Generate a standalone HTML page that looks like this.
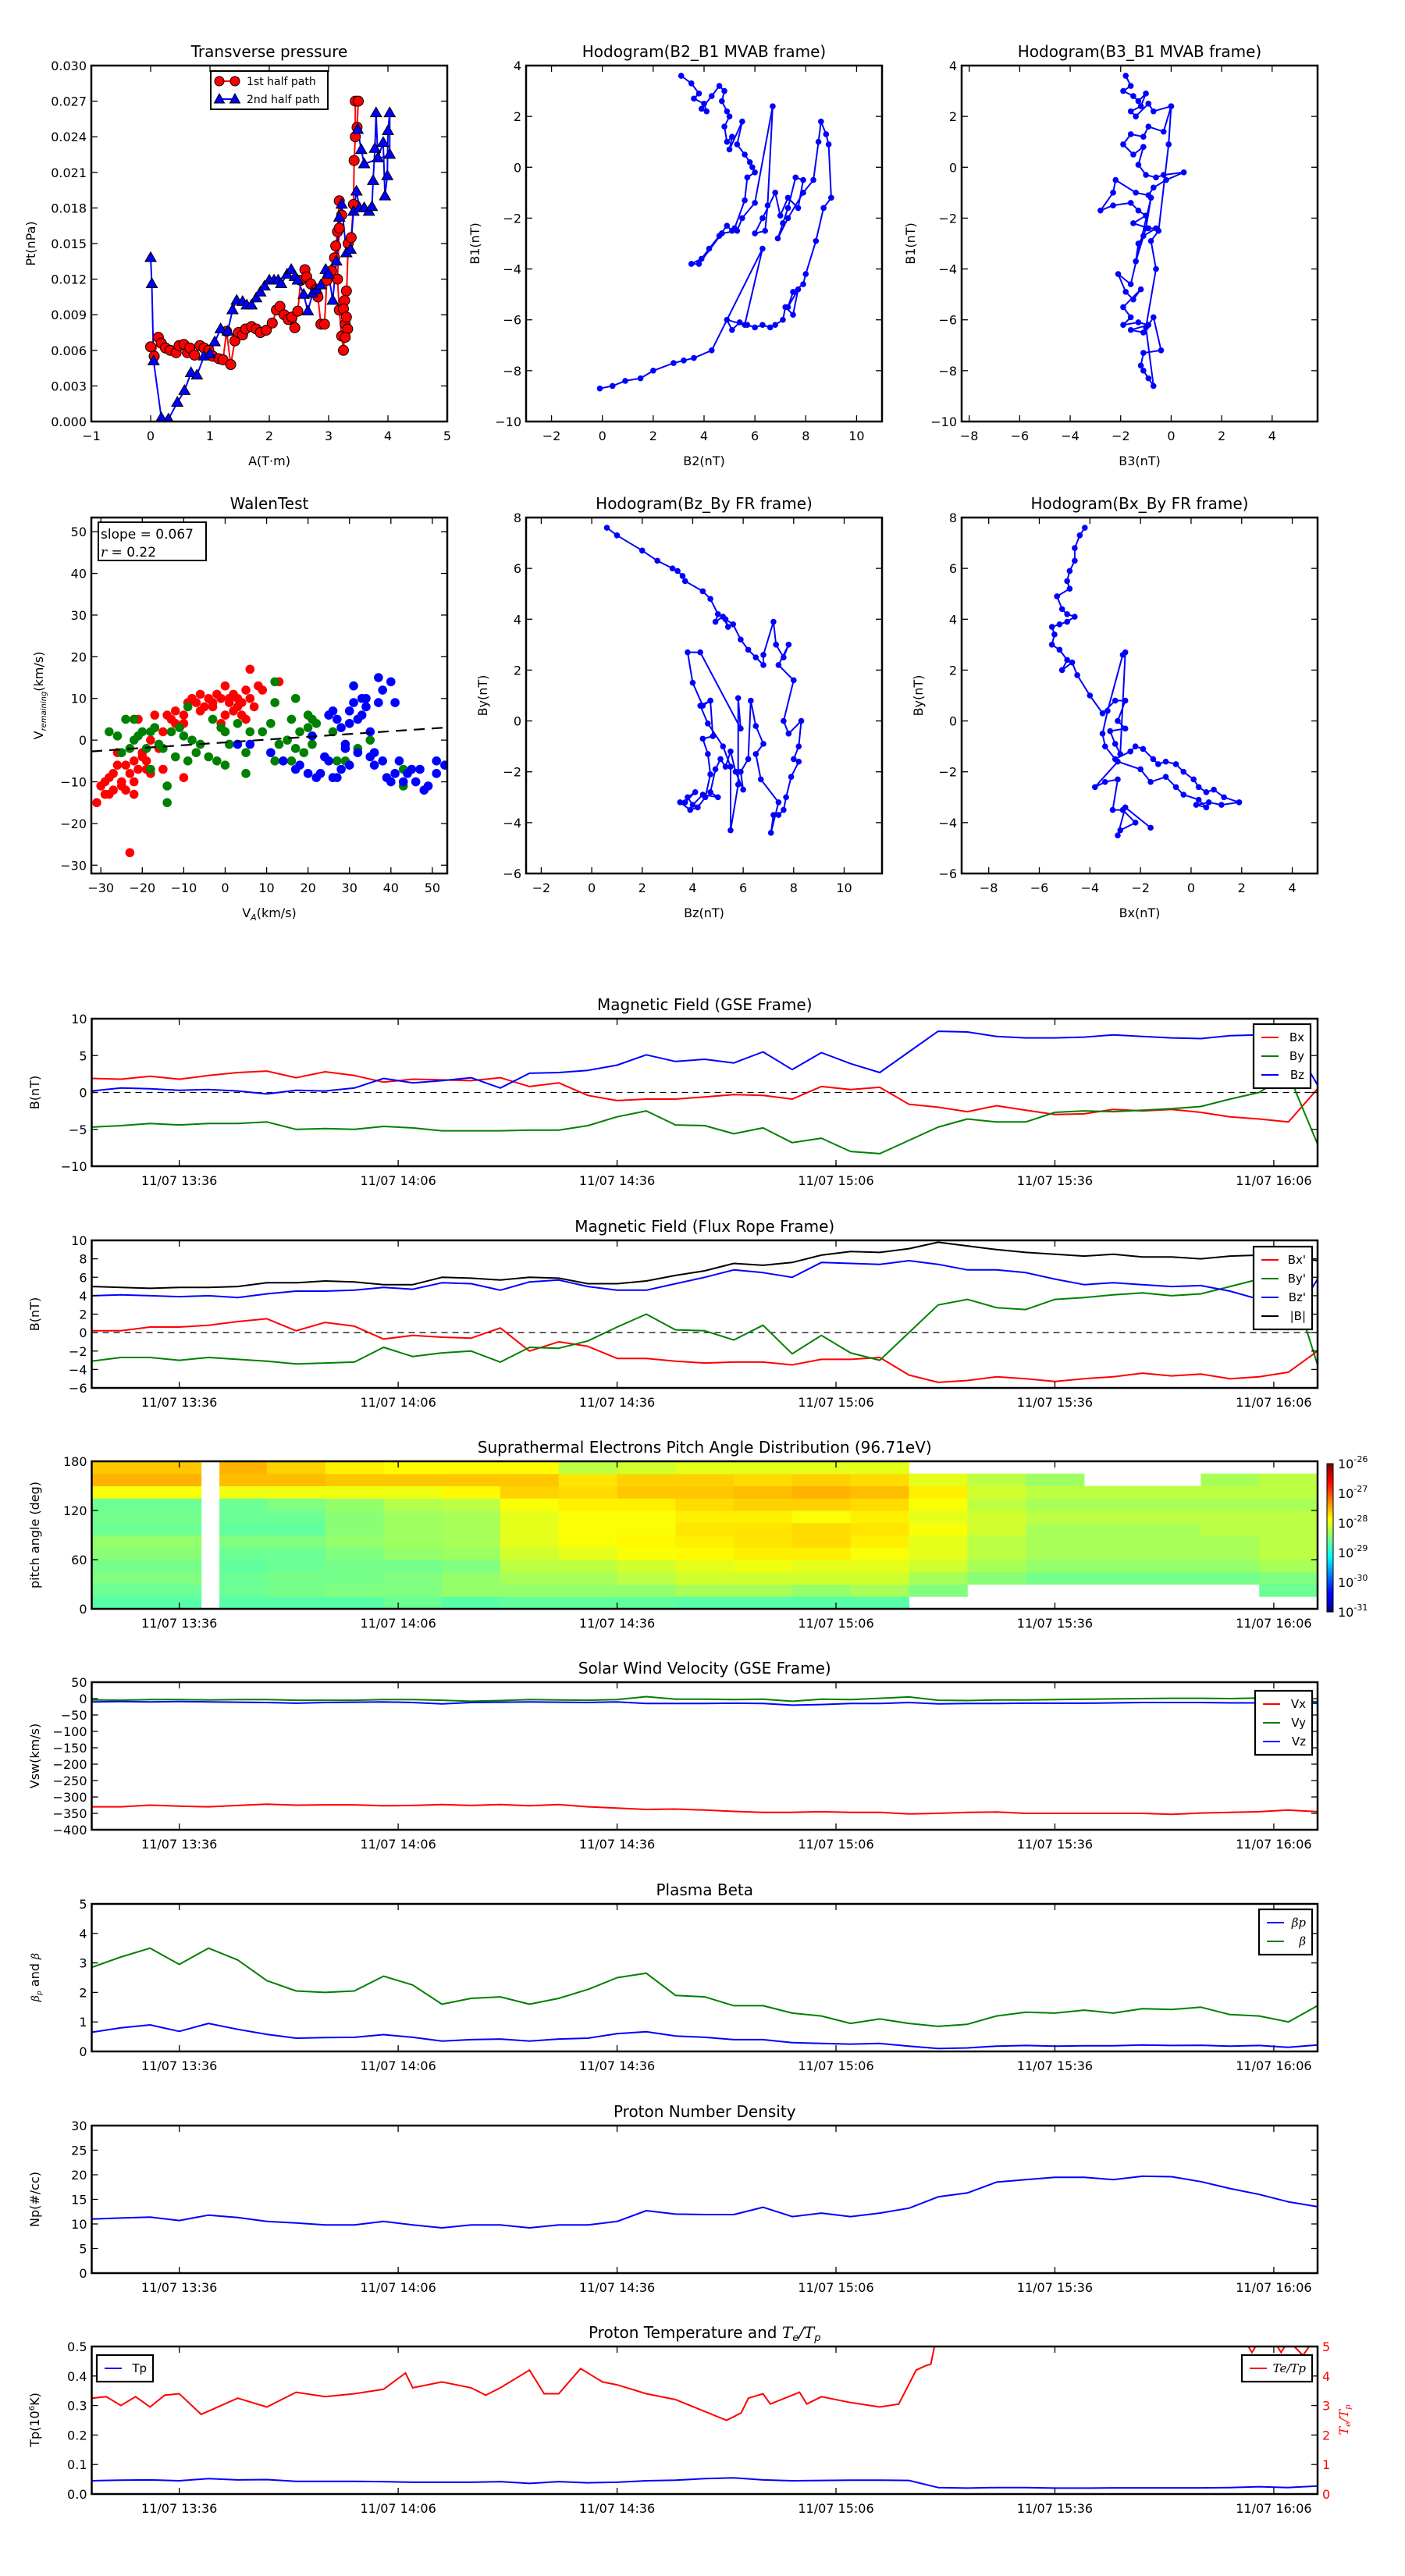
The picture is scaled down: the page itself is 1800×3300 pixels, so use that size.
<!DOCTYPE html>
<html><head><meta charset="utf-8"><title>Flux rope analysis</title>
<style>
body{margin:0;background:#fff}
svg{display:block;font-family:"DejaVu Sans","Liberation Sans",sans-serif}
</style></head>
<body>
<svg id="fig" xmlns="http://www.w3.org/2000/svg" width="1800" height="3300" viewBox="0 0 1800 3300">
<rect x="0" y="0" width="1800" height="3300" fill="#fff"/>
<defs>
<linearGradient id="jet" x1="0" y1="1" x2="0" y2="0">
<stop offset="0" stop-color="#00007f"/><stop offset="0.11" stop-color="#0000ff"/><stop offset="0.125" stop-color="#0000ff"/><stop offset="0.375" stop-color="#00ffff"/><stop offset="0.625" stop-color="#ffff00"/><stop offset="0.875" stop-color="#ff0000"/><stop offset="1" stop-color="#7f0000"/>
</linearGradient>
</defs>
</svg>
<script>
// ---------- DATA ----------
const T4=[0,4,8,12,16,20,24,28,32,36,40,44,48,52,56,60,64,68,72,76,80,84,88,92,96,100,104,108,112,116,120,124,128,132,136,140,144,148,152,156,160,164,168];
const timeTicks=[12,42,72,102,132,162];
const timeLabels=['11/07 13:36','11/07 14:06','11/07 14:36','11/07 15:06','11/07 15:36','11/07 16:06'];
const gseBx=[1.9,1.8,2.2,1.8,2.3,2.7,2.9,2.0,2.8,2.3,1.4,1.8,1.7,1.6,2.0,0.8,1.3,-0.4,-1.1,-0.9,-0.9,-0.6,-0.3,-0.4,-0.9,0.8,0.4,0.7,-1.6,-2.0,-2.6,-1.8,-2.4,-3.0,-2.9,-2.3,-2.5,-2.3,-2.7,-3.3,-3.6,-4.0,0.5];
const gseBy=[-4.7,-4.5,-4.2,-4.4,-4.2,-4.2,-4.0,-5.0,-4.9,-5.0,-4.6,-4.8,-5.2,-5.2,-5.2,-5.1,-5.1,-4.5,-3.3,-2.5,-4.4,-4.5,-5.6,-4.8,-6.8,-6.2,-8.0,-8.3,-6.5,-4.7,-3.6,-4.0,-4.0,-2.7,-2.5,-2.6,-2.4,-2.2,-1.9,-0.9,0.0,2.5,-7.0];
const gseBz=[0.2,0.6,0.5,0.3,0.4,0.2,-0.2,0.3,0.2,0.6,1.9,1.3,1.6,2.0,0.6,2.6,2.7,3.0,3.7,5.1,4.2,4.5,4.0,5.5,3.1,5.4,3.9,2.7,5.5,8.3,8.2,7.6,7.4,7.4,7.5,7.8,7.6,7.4,7.3,7.7,7.8,7.8,1.0];
const frBx=[0.2,0.2,0.6,0.6,0.8,1.2,1.5,0.2,1.1,0.7,-0.7,-0.3,-0.5,-0.6,0.5,-2.0,-1.0,-1.5,-2.8,-2.8,-3.1,-3.3,-3.2,-3.2,-3.5,-2.9,-2.9,-2.7,-4.6,-5.4,-5.2,-4.8,-5.0,-5.3,-5.0,-4.8,-4.4,-4.7,-4.5,-5.0,-4.8,-4.3,-2.0];
const frBy=[-3.1,-2.7,-2.7,-3.0,-2.7,-2.9,-3.1,-3.4,-3.3,-3.2,-1.6,-2.6,-2.2,-2.0,-3.2,-1.6,-1.7,-0.9,0.6,2.0,0.3,0.2,-0.8,0.8,-2.3,-0.3,-2.2,-3.0,0.0,3.0,3.6,2.7,2.5,3.6,3.8,4.1,4.3,4.0,4.2,5.0,5.8,6.5,-3.5];
const frBz=[4.0,4.1,4.0,3.9,4.0,3.8,4.2,4.5,4.5,4.6,4.9,4.7,5.4,5.3,4.6,5.5,5.7,5.0,4.6,4.6,5.3,6.0,6.8,6.5,6.0,7.6,7.5,7.4,7.8,7.4,6.8,6.8,6.5,5.8,5.2,5.4,5.2,5.0,5.1,4.5,3.6,0.7,5.8];
const frBt=[5.0,4.9,4.8,4.9,4.9,5.0,5.4,5.4,5.6,5.5,5.2,5.2,6.0,5.9,5.7,6.0,5.9,5.3,5.3,5.6,6.2,6.7,7.5,7.3,7.6,8.4,8.8,8.7,9.1,9.8,9.4,9.0,8.7,8.5,8.3,8.5,8.2,8.2,8.0,8.3,8.4,8.3,7.8];
const padEdges=[0,15,17.5,24,32,40,48,56,64,72,80,88,96,104,112,120,128,136,144,152,160,168];
const padAngles=[0,15,30,45,60,75,90,105,120,135,150,165,180];
const padLog=[
[-28.7,-28.6,-28.5,-28.55,-28.45,-28.4,-28.6,-28.55,-28.6,-27.9,-27.5,-27.6],
[null,null,null,null,null,null,null,null,null,null,null,null],
[-28.7,-28.6,-28.6,-28.65,-28.6,-28.5,-28.65,-28.6,-28.6,-27.95,-27.55,-27.5],
[-28.7,-28.55,-28.55,-28.6,-28.6,-28.5,-28.65,-28.6,-28.5,-27.95,-27.55,-27.65],
[-28.7,-28.5,-28.55,-28.55,-28.5,-28.4,-28.45,-28.45,-28.4,-27.95,-27.6,-27.8],
[-28.6,-28.5,-28.5,-28.55,-28.4,-28.35,-28.35,-28.35,-28.25,-27.95,-27.6,-27.85],
[-28.7,-28.4,-28.4,-28.5,-28.35,-28.3,-28.3,-28.3,-28.2,-27.85,-27.6,-27.85],
[-28.65,-28.4,-28.3,-28.2,-28.1,-28.0,-28.0,-28.0,-27.9,-27.65,-27.6,-27.85],
[-28.65,-28.4,-28.3,-28.2,-28.0,-27.9,-27.9,-27.9,-27.8,-27.7,-27.75,-28.2],
[-28.65,-28.4,-28.2,-28.1,-27.9,-27.85,-27.9,-27.9,-27.8,-27.6,-27.65,-28.1],
[-28.7,-28.3,-28.1,-28.0,-27.85,-27.8,-27.75,-27.8,-27.7,-27.6,-27.65,-28.0],
[-28.7,-28.3,-28.1,-27.95,-27.8,-27.75,-27.75,-27.8,-27.65,-27.55,-27.7,-28.0],
[-28.7,-28.4,-28.1,-28.0,-27.8,-27.7,-27.7,-27.9,-27.65,-27.5,-27.65,-28.0],
[-28.7,-28.3,-28.1,-28.0,-27.9,-27.8,-27.75,-27.8,-27.7,-27.55,-27.7,-28.0],
[null,-28.5,-28.3,-28.1,-28.0,-28.0,-27.9,-28.0,-27.9,-27.8,-28.0,null],
[null,null,-28.45,-28.3,-28.2,-28.2,-28.1,-28.1,-28.2,-28.1,-28.2,null],
[null,null,-28.55,-28.4,-28.3,-28.3,-28.3,-28.2,-28.3,-28.2,-28.35,null],
[null,null,-28.55,-28.4,-28.3,-28.3,-28.3,-28.2,-28.3,-28.2,null,null],
[null,null,-28.55,-28.4,-28.3,-28.3,-28.3,-28.2,-28.3,-28.2,null,null],
[null,null,-28.55,-28.4,-28.3,-28.3,-28.2,-28.2,-28.3,-28.2,-28.3,null],
[null,-28.6,-28.5,-28.3,-28.2,-28.2,-28.2,-28.2,-28.3,-28.2,-28.2,null]
];
const cbarLabels=['-31','-30','-29','-28','-27','-26'];
const swVx=[-330,-330,-325,-328,-330,-326,-322,-325,-324,-324,-327,-326,-323,-326,-323,-327,-323,-330,-334,-338,-337,-340,-344,-347,-347,-345,-347,-347,-352,-350,-347,-346,-350,-350,-350,-350,-350,-353,-349,-347,-345,-340,-345];
const swVy=[-4,-5,-3,-3,-4,-3,-3,-5,-5,-5,-3,-3,-5,-8,-6,-3,-4,-5,-3,6,-2,-2,-3,-2,-8,-2,-3,1,5,-5,-6,-4,-4,-3,-2,-1,0,1,1,0,2,-1,-10];
const swVz=[-10,-9,-10,-9,-10,-11,-12,-14,-12,-11,-10,-12,-16,-12,-11,-10,-11,-12,-10,-15,-15,-15,-14,-15,-20,-18,-15,-15,-12,-16,-15,-15,-14,-14,-14,-13,-12,-12,-12,-13,-13,-13,-14];
const betaP=[0.65,0.8,0.9,0.68,0.95,0.75,0.58,0.45,0.47,0.48,0.57,0.48,0.35,0.4,0.42,0.35,0.42,0.45,0.6,0.67,0.52,0.48,0.4,0.4,0.3,0.27,0.25,0.27,0.18,0.1,0.12,0.18,0.2,0.18,0.19,0.19,0.22,0.2,0.21,0.18,0.2,0.14,0.22];
const betaT=[2.85,3.2,3.5,2.95,3.5,3.1,2.4,2.05,2.0,2.05,2.55,2.25,1.6,1.8,1.85,1.6,1.8,2.1,2.5,2.65,1.9,1.85,1.55,1.55,1.3,1.2,0.95,1.1,0.95,0.85,0.92,1.2,1.33,1.3,1.4,1.3,1.45,1.42,1.5,1.25,1.2,1.0,1.55];
const npVals=[11,11.2,11.4,10.7,11.8,11.3,10.5,10.2,9.8,9.8,10.5,9.8,9.2,9.8,9.8,9.2,9.8,9.8,10.5,12.7,12,11.9,11.9,13.4,11.5,12.2,11.5,12.2,13.2,15.5,16.3,18.5,19.0,19.5,19.5,19.0,19.7,19.6,18.6,17.2,16,14.5,13.5];
const tpVals=[0.045,0.047,0.048,0.045,0.052,0.048,0.049,0.043,0.043,0.043,0.042,0.04,0.04,0.04,0.042,0.036,0.042,0.038,0.04,0.045,0.047,0.052,0.055,0.048,0.045,0.046,0.047,0.047,0.046,0.022,0.02,0.022,0.022,0.02,0.02,0.021,0.021,0.021,0.021,0.022,0.025,0.022,0.027];
const teT=[0,2,4,6,8,10,12,15,20,24,28,32,36,40,43,44,48,52,54,56,60,62,64,67,70,72,76,80,84,87,89,90,92,93,97,98,100,104,108,110.6,113,114.3,115,116,126,136,146,156,158,159,160,161,163,164,166,168];
const teRatio=[3.25,3.3,3.0,3.3,2.95,3.35,3.4,2.7,3.25,2.95,3.45,3.3,3.4,3.55,4.1,3.6,3.8,3.6,3.35,3.6,4.2,3.4,3.4,4.25,3.8,3.7,3.4,3.2,2.8,2.5,2.75,3.25,3.4,3.05,3.45,3.05,3.3,3.1,2.95,3.05,4.2,4.35,4.4,5.6,5.8,5.8,5.8,5.6,5.2,4.8,5.2,5.6,4.8,5.2,4.7,5.4];
const p1A=[0.0,0.06,0.13,0.18,0.25,0.33,0.43,0.48,0.56,0.62,0.66,0.74,0.83,0.9,0.98,1.05,1.15,1.22,1.28,1.35,1.42,1.48,1.55,1.6,1.7,1.78,1.85,1.95,2.05,2.12,2.18,2.25,2.32,2.38,2.43,2.48,2.53,2.6,2.63,2.7,2.78,2.82,2.87,2.93,2.97,3.05,3.1,3.12,3.15,3.18,3.22,3.18,3.15,3.18,3.22,3.25,3.28,3.3,3.27,3.25,3.3,3.32,3.28,3.33,3.38,3.42,3.43,3.45,3.45,3.5,3.48];
const p1P=[0.0063,0.0055,0.0071,0.0066,0.0062,0.0060,0.0058,0.0064,0.0065,0.0058,0.0062,0.0056,0.0064,0.0062,0.0060,0.0055,0.0053,0.0052,0.0076,0.0048,0.0068,0.0075,0.0073,0.0078,0.0080,0.0078,0.0075,0.0077,0.0083,0.0094,0.0097,0.0090,0.0086,0.0088,0.0079,0.0093,0.0119,0.0128,0.0122,0.0116,0.0111,0.0105,0.0082,0.0082,0.0119,0.0127,0.0138,0.0148,0.0160,0.0186,0.0174,0.0163,0.0120,0.0094,0.0072,0.0060,0.0082,0.0110,0.0102,0.0095,0.0088,0.0078,0.0071,0.0150,0.0155,0.0183,0.0220,0.0240,0.0270,0.0270,0.0248];
const p2A=[0.0,0.02,0.05,0.18,0.30,0.45,0.57,0.68,0.78,0.90,1.0,1.08,1.18,1.30,1.38,1.45,1.55,1.62,1.70,1.78,1.85,1.92,2.0,2.08,2.15,2.2,2.3,2.37,2.43,2.48,2.58,2.65,2.73,2.8,2.87,2.95,3.0,3.07,3.13,3.18,3.22,3.30,3.37,3.42,3.47,3.52,3.6,3.68,3.73,3.75,3.78,3.80,3.83,3.92,3.95,3.99,4.0,4.03,4.03,3.6,3.55,3.49];
const p2P=[0.0138,0.0116,0.0051,0.0003,0.0002,0.0016,0.0026,0.0041,0.0039,0.0055,0.0057,0.0067,0.0078,0.0076,0.0094,0.0102,0.0101,0.0098,0.0098,0.0104,0.0109,0.0114,0.0119,0.0119,0.0119,0.0116,0.0124,0.0128,0.0122,0.0119,0.0107,0.0093,0.0108,0.0111,0.0115,0.0128,0.0124,0.0102,0.0135,0.0172,0.0183,0.0142,0.0145,0.0177,0.0194,0.0180,0.0180,0.0177,0.0181,0.0203,0.0230,0.0260,0.0222,0.0235,0.0190,0.0207,0.0245,0.0260,0.0225,0.0217,0.0229,0.0246];
const h1X=[3.1,3.5,3.8,3.6,4.0,4.1,3.9,4.3,4.6,4.8,4.7,4.9,5.0,4.8,4.9,5.1,5.0,5.5,5.3,5.6,5.8,5.9,6.0,5.7,5.6,5.2,5.1,4.9,4.6,4.2,3.9,3.5,3.8,4.7,5.3,5.5,6.0,6.7,6.5,6.4,6.0,6.3,6.8,7.0,7.3,7.7,7.9,7.6,7.3,7.1,6.9,7.3,7.9,8.3,8.5,8.6,8.8,8.9,9.0,8.7,8.4,8.0,7.9,7.5,7.3,7.7,7.5,7.2,7.1,6.8,6.6,6.3,6.0,5.7,5.4,5.1,4.9,5.6,6.3,4.3,3.6,3.2,2.8,2.0,1.5,0.9,0.4,-0.1];
const h1Y=[3.6,3.3,2.9,2.7,2.5,2.2,2.3,2.8,3.2,3.0,2.6,2.2,2.0,1.6,1.0,1.2,0.7,1.8,0.9,0.5,0.2,0.0,-0.2,-0.4,-1.3,-2.4,-2.5,-2.3,-2.7,-3.2,-3.6,-3.8,-3.8,-2.6,-2.5,-2.0,-1.4,2.4,-1.5,-2.5,-2.6,-2.0,-1.0,-1.9,-1.2,-1.6,-0.5,-0.4,-1.6,-2.2,-2.8,-2.0,-1.0,-0.5,1.0,1.8,1.3,0.9,-1.2,-1.6,-2.9,-4.2,-4.6,-4.9,-5.5,-4.8,-5.8,-5.5,-6.0,-6.2,-6.3,-6.2,-6.3,-6.2,-6.1,-6.4,-6.0,-6.2,-3.2,-7.2,-7.5,-7.6,-7.7,-8.0,-8.3,-8.4,-8.6,-8.7];
const h2X=[-1.8,-1.6,-1.9,-1.5,-1.3,-1.0,-1.2,-1.6,-1.4,-0.9,-0.7,0.0,-0.3,-0.9,-1.1,-1.6,-1.9,-1.5,-1.1,-1.3,-1.0,-0.6,-0.3,0.5,-0.2,-0.7,-0.9,-1.4,-2.2,-2.3,-2.8,-2.3,-1.6,-1.3,-1.0,-1.5,-0.9,-0.6,-1.1,-1.3,-1.4,-1.0,-0.8,-1.6,-2.1,-1.8,-1.5,-1.2,-1.9,-1.6,-1.9,-1.3,-0.9,-1.6,-1.1,-0.7,-0.4,-1.1,-1.2,-1.1,-0.9,-0.7,-1.0,-0.6,-0.8,-0.5,-0.1,0.0];
const h2Y=[3.6,3.2,3.0,2.8,2.6,2.9,2.4,2.2,2.0,2.5,2.2,2.4,1.4,1.6,1.2,1.3,0.9,0.5,0.8,0.1,-0.3,-0.4,-0.3,-0.2,-0.5,-0.8,-1.1,-1.0,-0.5,-1.0,-1.7,-1.5,-1.4,-1.7,-1.9,-2.2,-2.4,-2.4,-2.7,-3.0,-3.7,-2.4,-1.2,-4.6,-4.2,-4.9,-5.2,-4.8,-5.5,-5.9,-6.2,-6.1,-6.2,-6.4,-6.5,-5.9,-7.2,-7.3,-7.8,-8.0,-8.3,-8.6,-6.3,-4.0,-2.9,-2.5,0.9,2.4];
const h3X=[0.6,1.0,2.0,2.6,3.2,3.4,3.6,3.7,4.4,4.7,5.0,4.9,5.2,5.4,5.3,5.6,5.9,6.2,6.5,6.8,6.8,7.2,7.3,7.6,7.8,7.4,8.0,7.6,7.8,8.3,8.2,8.0,8.2,7.9,7.7,7.6,7.4,7.2,7.1,7.4,6.7,6.5,6.8,6.5,6.3,6.2,5.9,6.0,5.7,5.5,5.3,5.1,4.9,4.7,5.0,4.4,4.0,3.8,4.1,3.7,3.5,3.9,4.2,4.5,4.7,4.6,4.4,4.8,4.7,4.3,4.6,5.2,5.5,5.5,5.8,5.8,5.9,4.3,3.8,4.0,4.4,4.7];
const h3Y=[7.6,7.3,6.7,6.3,6.0,5.9,5.7,5.5,5.1,4.8,4.2,3.9,4.1,3.7,4.0,3.8,3.2,2.8,2.5,2.2,2.6,3.9,3.0,2.5,3.0,2.2,1.6,0.0,-0.5,0.0,-1.0,-1.5,-1.6,-2.2,-3.0,-3.5,-3.7,-3.7,-4.4,-3.2,-2.3,-1.3,-0.9,-0.2,0.8,-1.5,-2.0,-2.7,-2.0,-1.2,-1.8,-1.5,-1.9,-2.8,-3.0,-2.9,-3.3,-3.0,-2.8,-3.2,-3.2,-3.5,-3.4,-3.0,-2.1,-1.3,-0.7,-0.6,0.8,0.6,-0.1,-1.0,-1.8,-4.3,-2.5,0.9,-0.3,2.7,2.7,1.5,0.6,0.8];
const h4X=[-4.2,-4.4,-4.6,-4.6,-4.8,-4.9,-4.8,-5.3,-5.1,-4.9,-4.6,-4.9,-5.2,-5.5,-5.4,-5.5,-5.2,-4.9,-5.1,-4.7,-4.5,-4.0,-3.5,-3.0,-2.6,-2.9,-2.6,-3.2,-3.0,-2.8,-2.6,-2.7,-3.3,-3.5,-3.4,-3.0,-2.4,-2.2,-1.9,-1.5,-1.3,-1.0,-0.6,-0.3,0.1,0.3,0.6,0.9,1.3,1.9,1.2,0.7,0.2,0.6,0.3,-0.3,-0.6,-1.0,-1.6,-2.0,-2.9,-3.8,-3.4,-2.9,-3.1,-2.7,-2.2,-2.8,-2.9,-2.6,-1.6];
const h4Y=[7.6,7.3,6.8,6.3,5.9,5.5,5.2,4.9,4.4,4.2,4.1,3.9,3.8,3.7,3.4,3.0,2.8,2.4,2.0,2.3,1.8,1.0,0.3,0.8,0.8,0.0,-0.3,-0.4,-0.9,-1.3,2.7,2.6,0.4,-0.5,-1.0,-1.5,-1.2,-1.0,-1.1,-1.5,-1.7,-1.6,-1.7,-2.0,-2.3,-2.6,-2.8,-2.7,-3.0,-3.2,-3.3,-3.2,-3.3,-3.4,-3.1,-2.9,-2.6,-2.2,-2.4,-1.9,-1.6,-2.6,-2.4,-2.3,-3.5,-3.5,-4.0,-4.3,-4.5,-3.4,-4.2];
const wRedX=[-31,-30,-29,-28,-27,-26,-26,-25,-24,-23,-22,-22,-21,-22,-20,-19,-18,-17,-17,-16,-15,-14,-13,-12,-10,-10,-9,-8,-7,-6,-6,-5,-4,-3,-2,-1,0,0,1,2,2,3,4,5,5,6,6,7,8,9,13,-23,-10,-20,-25,-28,-18,-15,-1,4,-24,-27,-21,-19,-29,-12,-3,1,3];
const wRedY=[-15,-11,-13,-9,-12,-6,-3,-10,-12,-8,-13,-5,5,-10,-3,-7,-8,3,6,-2,-7,6,5,7,6,4,9,10,9,11,7,8,10,9,11,10,13,6,9,11,7,10,9,12,5,17,10,8,13,12,14,-27,-9,-4,-11,-13,0,2,4,6,-6,-8,-7,-5,-10,4,8,10,8];
const wGrnX=[-28,-26,-25,-24,-23,-22,-22,-21,-20,-19,-18,-18,-17,-16,-15,-14,-14,-13,-12,-11,-10,-9,-9,-8,-7,-6,-4,-3,-2,-1,0,0,1,3,5,5,6,9,12,12,11,12,13,15,16,17,16,17,18,19,20,20,21,21,22,26,27,29,32,35,43,43];
const wGrnY=[2,1,-3,5,-2,0,5,1,2,-2,2,-7,3,-1,-2,-11,-15,2,-4,3,1,-5,8,0,-3,-1,-4,5,-5,3,-6,2,-1,4,-3,-8,2,2,14,9,4,-5,-1,0,5,10,-5,-2,2,-3,6,3,5,-1,4,2,-5,-5,-2,0,-11,-7];
const wBluX=[3,6,11,14,17,18,20,22,23,24,25,26,26,27,28,28,29,30,30,31,31,32,32,33,34,35,35,36,37,37,38,38,39,40,40,41,41,42,43,44,45,46,47,48,49,51,51,53,21,29,25,27,34,36,30,33];
const wBluY=[-1,-1,-3,-5,-7,-6,-8,-9,-8,-4,6,-9,7,5,-7,3,-2,-6,7,9,13,5,-3,10,8,-4,2,-6,9,15,12,-5,-9,14,-10,9,-8,-5,-10,-8,-7,-10,-7,-12,-11,-8,-5,-6,1,-1,-5,-9,10,-3,4,6];
const walenSlope=0.067, walenIntercept=-0.55;

// ---------- DRAWING ----------
const NS='http://www.w3.org/2000/svg';
const svg=document.getElementById('fig');
function mk(tag,attrs,parent){const e=document.createElementNS(NS,tag);for(const k in attrs)e.setAttribute(k,attrs[k]);(parent||svg).appendChild(e);return e;}
function fmt(v){return (v<0?'\u2212':'')+Math.abs(v);}
let clipId=0;
function axes(name,x0,y0,w,h,xd,yd,xt,xl,yt,yl){
  const g=mk('g',{});
  
  
  const sx=v=>x0+(v-xd[0])/(xd[1]-xd[0])*w;
  const sy=v=>y0+h-(v-yd[0])/(yd[1]-yd[0])*h;
  const cid='clip'+(clipId++);
  const cp=mk('clipPath',{id:cid},g);
  mk('rect',{x:x0,y:y0,width:w,height:h},cp);
  const plot=mk('g',{'clip-path':'url(#'+cid+')'},g);
  
  
  const over=mk('g',{},g);
  
  
  xt.forEach((v,i)=>{
    const x=sx(v);
    const t1=mk('line',{x1:x,y1:y0+h,x2:x,y2:y0+h-8,stroke:'#000','stroke-width':1.3},over);
    
    
    const t2=mk('line',{x1:x,y1:y0,x2:x,y2:y0+8,stroke:'#000','stroke-width':1.3},over);
    
    
    const lb=mk('text',{x:x,y:y0+h+24,'font-size':16,'text-anchor':'middle'},over);
    
    
    lb.textContent=xl[i];
  });
  yt.forEach((v,i)=>{
    const y=sy(v);
    const t1=mk('line',{x1:x0,y1:y,x2:x0+8,y2:y,stroke:'#000','stroke-width':1.3},over);
    
    
    const t2=mk('line',{x1:x0+w,y1:y,x2:x0+w-8,y2:y,stroke:'#000','stroke-width':1.3},over);
    
    
    const lb=mk('text',{x:x0-6,y:y+6,'font-size':16,'text-anchor':'end'},over);
    
    
    lb.textContent=yl[i];
  });
  const fr=mk('rect',{x:x0,y:y0,width:w,height:h,fill:'none',stroke:'#000','stroke-width':2.5},over);
  
  
  return {sx,sy,g,plot,over,x0,y0,w,h};
}
function title(ax,s){
  const t=mk('text',{x:ax.x0+ax.w/2,y:ax.y0-11,'font-size':20,'text-anchor':'middle'},ax.g);
  
  
  t.textContent=s;return t;
}
function xlabel(ax,s,dy){
  const t=mk('text',{x:ax.x0+ax.w/2,y:ax.y0+ax.h+(dy||55),'font-size':16,'text-anchor':'middle'},ax.g);
  
  
  t.textContent=s;return t;
}
function ylabel(ax,s,x){
  const cy=ax.y0+ax.h/2;
  const t=mk('text',{x:x,y:cy,'font-size':16,'text-anchor':'middle',transform:'rotate(-90 '+x+' '+cy+')'},ax.g);
  
  
  t.textContent=s;return t;
}
function line(ax,xs,ys,color,name,sw){
  const d=xs.map((x,i)=>(i?'L':'M')+ax.sx(x).toFixed(1)+' '+ax.sy(ys[i]).toFixed(1)).join(' ');
  const p=mk('path',{d:d,fill:'none',stroke:color,'stroke-width':sw||2,'stroke-linejoin':'round'},ax.plot);
  
  
  return p;
}
function dots(ax,xs,ys,color,r,name,stroke){
  const g=mk('g',{},ax.plot);
  
  
  xs.forEach((x,i)=>{
    const c=mk('circle',{cx:ax.sx(x),cy:ax.sy(ys[i]),r:r,fill:color,stroke:stroke||'none','stroke-width':1},g);
    
    
  });
}
function tris(ax,xs,ys,color,r,name){
  const g=mk('g',{},ax.plot);
  
  
  xs.forEach((x,i)=>{
    const cx=ax.sx(x),cy=ax.sy(ys[i]);
    const p=mk('polygon',{points:`${cx},${cy-r} ${cx-r*0.95},${cy+r*0.65} ${cx+r*0.95},${cy+r*0.65}`,fill:color,stroke:'#000','stroke-width':1},g);
    
    
  });
}
function zeroline(ax){
  const l=mk('line',{x1:ax.x0,x2:ax.x0+ax.w,y1:ax.sy(0),y2:ax.sy(0),stroke:'#000','stroke-width':1.3,'stroke-dasharray':'8,6'},ax.plot);
  
  
}
function legend(ax,x,y,w,entries,fs){
  const g=mk('g',{},ax.over);
  
  
  const rh=24;
  const bx=mk('rect',{x:x,y:y,width:w,height:entries.length*rh+10,fill:'#fff',stroke:'#000','stroke-width':2.2},g);
  
  
  entries.forEach((e,i)=>{
    const yy=y+17+i*rh;
    const ln=mk('line',{x1:x+10,x2:x+32,y1:yy,y2:yy,stroke:e[1],'stroke-width':2},g);
    
    
    const t=mk('text',{x:x+w-8,y:yy+5,'font-size':fs||15,'text-anchor':'end','font-style':e[2]?'italic':'normal','font-family':e[2]?'"DejaVu Serif","Liberation Serif",serif':'inherit'},g);
    
    
    t.textContent=e[0];
  });
}
function ticks(a,b,s){const r=[];for(let v=a;v<=b+1e-9;v+=s)r.push(+v.toFixed(4));return r;}

{
  const yt=ticks(0,0.03,0.003), xt=ticks(-1,5,1);
  const ax=axes('transverse-pressure-chart',117,84,456,456,[-1,5],[0,0.03],xt,xt.map(fmt),yt,yt.map(v=>v.toFixed(3)));
  title(ax,'Transverse pressure');xlabel(ax,'A(T\u00b7m)',56);ylabel(ax,'Pt(nPa)',45);
  line(ax,p1A,p1P,'#ff0000','series-1st-half-line',2);
  line(ax,p2A,p2P,'#0000ff','series-2nd-half-line',2);
  dots(ax,p1A,p1P,'#ff0000',6.5,'series-1st-half-markers','#000');
  tris(ax,p2A,p2P,'#0000ff',7.5,'series-2nd-half-markers');
  const g=mk('g',{},ax.over);
  
  
  const bx=mk('rect',{x:270,y:91,width:150,height:49,fill:'#fff',stroke:'#000','stroke-width':2},g);
  
  
  const l1=mk('line',{x1:281,x2:301,y1:104,y2:104,stroke:'#ff0000','stroke-width':2},g);
  
  
  [281,301].forEach(cx=>{const c=mk('circle',{cx:cx,cy:104,r:6,fill:'#ff0000',stroke:'#000'},g);
    
    });
  const l2=mk('line',{x1:281,x2:301,y1:127,y2:127,stroke:'#0000ff','stroke-width':2},g);
  
  
  [281,301].forEach(cx=>{const p=mk('polygon',{points:`${cx},${120} ${cx-6.5},${132} ${cx+6.5},${132}`,fill:'#0000ff',stroke:'#000'},g);
    
    });
  const t1=mk('text',{x:316,y:109,'font-size':14},g);
  
  
  t1.textContent='1st half path';
  const t2=mk('text',{x:316,y:132,'font-size':14},g);
  
  
  t2.textContent='2nd half path';
}
function hodo(name,x0,y0,xd,yd,xt,yt,xs,ys,tt,xlab,ylab,ylx){
  const ax=axes(name,x0,y0,456,456,xd,yd,xt,xt.map(fmt),yt,yt.map(fmt));
  title(ax,tt);xlabel(ax,xlab,56);ylabel(ax,ylab,ylx);
  line(ax,xs,ys,'#0000ff','hodogram-path',2);
  dots(ax,xs,ys,'#0000ff',3.8,'hodogram-points');
}
hodo('hodogram-b2-b1',674,84,[-3,11],[-10,4],ticks(-2,10,2),ticks(-10,4,2),h1X,h1Y,'Hodogram(B2_B1 MVAB frame)','B2(nT)','B1(nT)',614);
hodo('hodogram-b3-b1',1232,84,[-8.3,5.8],[-10,4],ticks(-8,4,2),ticks(-10,4,2),h2X,h2Y,'Hodogram(B3_B1 MVAB frame)','B3(nT)','B1(nT)',1172);
hodo('hodogram-bz-by',674,663,[-2.6,11.5],[-6,8],ticks(-2,10,2),ticks(-6,8,2),h3X,h3Y,'Hodogram(Bz_By FR frame)','Bz(nT)','By(nT)',624);
hodo('hodogram-bx-by',1232,663,[-9.07,5],[-6,8],ticks(-8,4,2),ticks(-6,8,2),h4X,h4Y,'Hodogram(Bx_By FR frame)','Bx(nT)','By(nT)',1182);
{
  const xt=ticks(-30,50,10), yt=ticks(-30,50,10);
  const ax=axes('walen-test-chart',117,663,456,456,[-32.3,53.6],[-32,53.4],xt,xt.map(fmt),yt,yt.map(fmt));
  title(ax,'WalenTest');
  const xl=mk('text',{x:345,y:1175,'font-size':16,'text-anchor':'middle'},ax.g);
  
  
  xl.innerHTML='V<tspan font-size="11" font-style="italic" dy="4">A</tspan><tspan dy="-4">(km/s)</tspan>';
  const yl=mk('text',{x:55,y:891,'font-size':16,'text-anchor':'middle',transform:'rotate(-90 55 891)'},ax.g);
  
  
  yl.innerHTML='V<tspan font-size="10" font-style="italic" dy="4">remaining</tspan><tspan dy="-4">(km/s)</tspan>';
  dots(ax,wRedX,wRedY,'#ff0000',5.8,'series-red-points');
  dots(ax,wGrnX,wGrnY,'#008000',5.8,'series-green-points');
  dots(ax,wBluX,wBluY,'#0000ff',5.8,'series-blue-points');
  const fx=[-32.3,53.6];
  line(ax,fx,fx.map(v=>walenSlope*v+walenIntercept),'#000','fit-line',2.2).setAttribute('stroke-dasharray','14,9');
  const g=mk('g',{},ax.over);
  
  
  const b=mk('rect',{x:126,y:669,width:138,height:49,fill:'#fff',stroke:'#000','stroke-width':2},g);
  
  
  const s1=mk('text',{x:129,y:690,'font-size':17},g);
  
  
  s1.textContent='slope = 0.067';
  const s2=mk('text',{x:129,y:713,'font-size':17},g);
  
  
  s2.innerHTML='<tspan font-style="italic" font-family="DejaVu Serif,serif">r</tspan> = 0.22';
}
const TX0=117.5,TW=1570.5,TH=189;
function tpanel(name,y0,yd,yt,yl,tt,ylab){
  const ax=axes(name,TX0,y0,TW,TH,[0,168],yd,timeTicks,timeLabels,yt,yl);
  if(tt)title(ax,tt);
  if(ylab)ylabel(ax,ylab,50);
  return ax;
}
{
  const yt=ticks(-10,10,5);
  const ax=tpanel('magnetic-field-gse-chart',1305,[-10,10],yt,yt.map(fmt),'Magnetic Field (GSE Frame)','B(nT)');
  zeroline(ax);
  line(ax,T4,gseBx,'#ff0000','series-bx');
  line(ax,T4,gseBy,'#008000','series-by');
  line(ax,T4,gseBz,'#0000ff','series-bz');
  legend(ax,1606,1312,73,[['Bx','#ff0000'],['By','#008000'],['Bz','#0000ff']]);
}
{
  const yt=ticks(-6,10,2);
  const ax=tpanel('magnetic-field-fr-chart',1589,[-6,10],yt,yt.map(fmt),'Magnetic Field (Flux Rope Frame)','B(nT)');
  zeroline(ax);
  line(ax,T4,frBx,'#ff0000','series-bx-prime');
  line(ax,T4,frBy,'#008000','series-by-prime');
  line(ax,T4,frBz,'#0000ff','series-bz-prime');
  line(ax,T4,frBt,'#000000','series-b-total');
  legend(ax,1606,1597,75,[["Bx'",'#ff0000'],["By'",'#008000'],["Bz'",'#0000ff'],['|B|','#000']]);
}
function jet(t){t=Math.max(0,Math.min(1,t));const c=v=>Math.round(255*Math.max(0,Math.min(1,v)));
  return `rgb(${c(1.5-Math.abs(4*t-3))},${c(1.5-Math.abs(4*t-2))},${c(1.5-Math.abs(4*t-1))})`;}
{
  const yt=[0,60,120,180];
  const ax=tpanel('pitch-angle-distribution-chart',1872,[0,180],yt,yt.map(String),'Suprathermal Electrons Pitch Angle Distribution (96.71eV)','pitch angle (deg)');
  const hg=mk('g',{},ax.plot);
  
  
  padLog.forEach((row,b)=>{
    row.forEach((v,r)=>{
      if(v===null)return;
      const x1=ax.sx(padEdges[b]),x2=ax.sx(padEdges[b+1]);
      const y1=ax.sy(padAngles[r+1]),y2=ax.sy(padAngles[r]);
      const c=mk('rect',{x:x1,y:y1,width:x2-x1+0.5,height:y2-y1+0.5,fill:jet((v+31)/5)},hg);
      
      
    });
  });
  ax.g.appendChild(ax.over);
  const cb=mk('g',{});
  
  
  const cr=mk('rect',{x:1700,y:1875,width:8,height:190,fill:'url(#jet)',stroke:'#000','stroke-width':1},cb);
  
  
  cbarLabels.forEach((s,i)=>{
    const y=2065-i*38;
    const t=mk('text',{x:1714,y:y+6,'font-size':16},cb);
    
    
    t.innerHTML='10<tspan font-size="11" dy="-8">'+s+'</tspan>';
  });
}
{
  const yt=ticks(-400,50,50);
  const ax=tpanel('solar-wind-velocity-chart',2155,[-400,50],yt,yt.map(fmt),'Solar Wind Velocity (GSE Frame)','Vsw(km/s)');
  line(ax,T4,swVx,'#ff0000','series-vx');
  line(ax,T4,swVy,'#008000','series-vy');
  line(ax,T4,swVz,'#0000ff','series-vz');
  legend(ax,1608,2166,73,[['Vx','#ff0000'],['Vy','#008000'],['Vz','#0000ff']]);
}
{
  const yt=ticks(0,5,1);
  const ax=tpanel('plasma-beta-chart',2439,[0,5],yt,yt.map(String),'Plasma Beta',null);
  const yl=mk('text',{x:50,y:2533,'font-size':16,'text-anchor':'middle',transform:'rotate(-90 50 2533)'},ax.g);
  
  
  yl.innerHTML='<tspan font-style="italic" font-family="DejaVu Serif,serif" font-size="14">\u03b2</tspan><tspan font-size="9" font-style="italic" dy="3">p</tspan><tspan dy="-3"> and </tspan><tspan font-style="italic" font-family="DejaVu Serif,serif" font-size="14">\u03b2</tspan>';
  line(ax,T4,betaP,'#0000ff','series-beta-p');
  line(ax,T4,betaT,'#008000','series-beta');
  legend(ax,1613,2446,68,[['\u03b2p','#0000ff',1],['\u03b2','#008000',1]]);
}
{
  const yt=ticks(0,30,5);
  const ax=tpanel('proton-density-chart',2723,[0,30],yt,yt.map(String),'Proton Number Density','Np(#/cc)');
  line(ax,T4,npVals,'#0000ff','series-np');
}
{
  const yt=ticks(0,0.5,0.1);
  const ax=tpanel('proton-temperature-chart',3006,[0,0.5],yt,yt.map(v=>v.toFixed(1)),null,null);
  const tt=mk('text',{x:TX0+TW/2,y:2995,'font-size':20,'text-anchor':'middle'},ax.g);
  
  
  tt.innerHTML='Proton Temperature and <tspan font-style="italic" font-family="DejaVu Serif,serif">T</tspan><tspan font-size="13" font-style="italic" dy="4">e</tspan><tspan dy="-4" font-style="italic" font-family="DejaVu Serif,serif">/T</tspan><tspan font-size="13" font-style="italic" dy="4">p</tspan>';
  const yl=mk('text',{x:50,y:3100,'font-size':16,'text-anchor':'middle',transform:'rotate(-90 50 3100)'},ax.g);
  
  
  yl.innerHTML='Tp(10<tspan font-size="10" dy="-6">6</tspan><tspan dy="6">K)</tspan>';
  line(ax,T4,tpVals,'#0000ff','series-tp');
  const sr=v=>ax.y0+ax.h-v/5*ax.h;
  const d=teT.map((t,i)=>(i?'L':'M')+ax.sx(t).toFixed(1)+' '+sr(teRatio[i]).toFixed(1)).join(' ');
  const p=mk('path',{d:d,fill:'none',stroke:'#ff0000','stroke-width':2},ax.plot);
  
  
  const rg=mk('g',{},ax.g);
  
  
  [0,1,2,3,4,5].forEach(v=>{
    const t=mk('text',{x:1694,y:sr(v)+6,'font-size':16,fill:'#ff0000'},rg);
    
    
    t.textContent=String(v);
  });
  const ry=mk('text',{x:1727,y:3100,'font-size':16,fill:'#ff0000','text-anchor':'middle','font-style':'italic','font-family':'DejaVu Serif,serif',transform:'rotate(-90 1727 3100)'},rg);
  
  
  ry.innerHTML='T<tspan font-size="10" dy="3">e</tspan><tspan dy="-3">/T</tspan><tspan font-size="10" dy="3">p</tspan>';
  legend(ax,124,3017,72,[['Tp','#0000ff']]);
  legend(ax,1591,3017,90,[['Te/Tp','#ff0000',1]]);
}
</script>
</body></html>
